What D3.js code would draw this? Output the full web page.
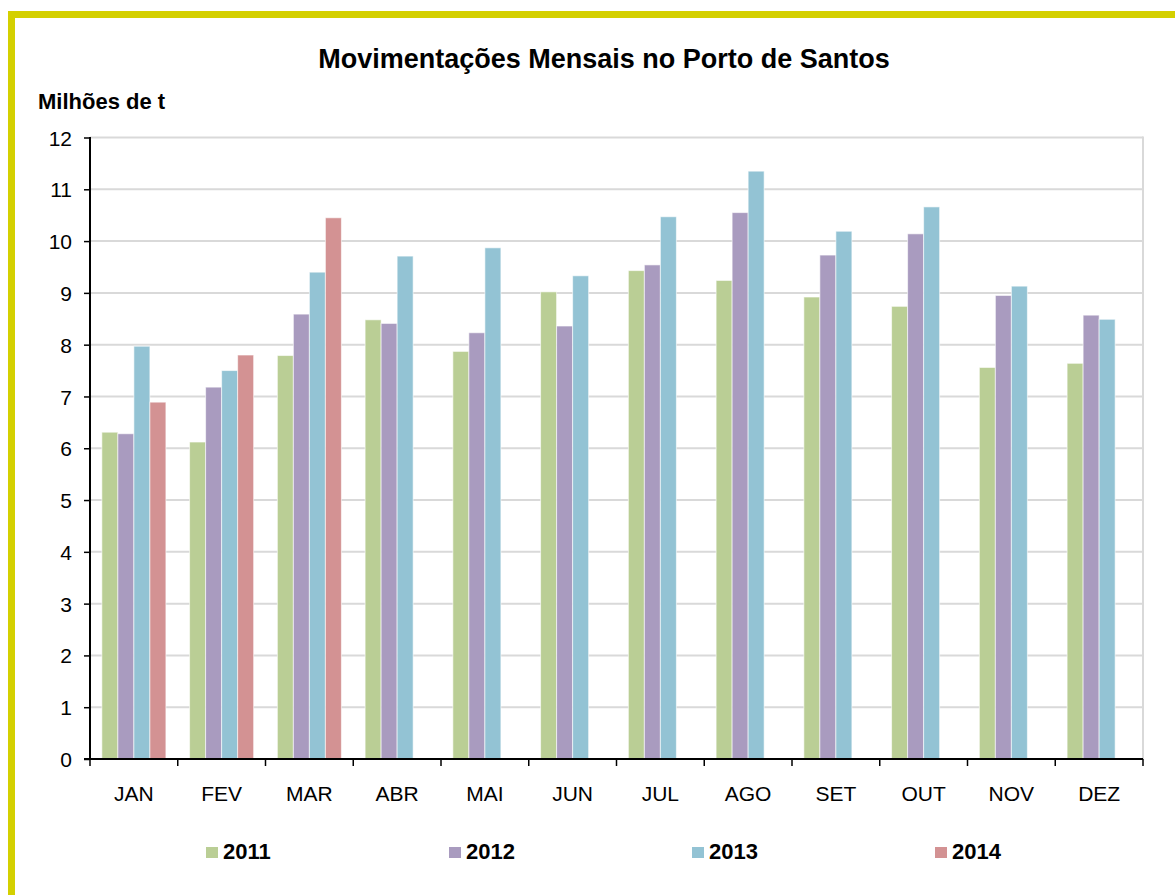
<!DOCTYPE html>
<html>
<head>
<meta charset="utf-8">
<script src="https://cdn.jsdelivr.net/npm/d3@7"></script>
<style>
  body { margin: 0; background: #fff; }
  text { font-family: "Liberation Sans", Arial, sans-serif; }
</style>
</head>
<body>
<div id="chart"></div>
<script>

var months = ["JAN","FEV","MAR","ABR","MAI","JUN","JUL","AGO","SET","OUT","NOV","DEZ"];
var years = ["2011","2012","2013","2014"];
var yearColors = ["#BACE95","#A99BBF","#93C3D4","#D39293"];
var yTicks = [0,1,2,3,4,5,6,7,8,9,10,11,12];

// milhões de t por mês
var v2011 = [6.31, 6.12, 7.79, 8.48, 7.87, 9.02, 9.43, 9.24, 8.92, 8.74, 7.56, 7.64];
var v2012 = [6.28, 7.18, 8.59, 8.41, 8.23, 8.36, 9.54, 10.55, 9.73, 10.14, 8.95, 8.57];
var v2013 = [7.97, 7.50, 9.40, 9.71, 9.87, 9.33, 10.47, 11.35, 10.19, 10.66, 9.13, 8.49];
var v2014 = [6.89, 7.80, 10.45];

var series = [v2011, v2012, v2013, v2014];

var width = 1175, height = 895;

var svg = d3.select("#chart")
  .append("svg")
  .attr("width", width)
  .attr("height", height);

// moldura amarela
svg.append("rect")
  .attr("x", 11.5)
  .attr("y", 14.5)
  .attr("width", width + 20)
  .attr("height", height + 20)
  .style("fill", "none")
  .style("stroke", "#D4D000")
  .style("stroke-width", 7);

var plotLeft = 90, plotRight = 1143, plotTop = 137.5, plotBottom = 759;

var x0 = d3.scaleBand()
  .domain(months)
  .range([plotLeft, plotRight])
  .paddingInner(0.27)
  .paddingOuter(0.135);

var x1 = d3.scaleBand()
  .domain(years)
  .range([0, x0.bandwidth()]);

var y = d3.scaleLinear()
  .domain([0, 12])
  .range([plotBottom, plotTop]);

// grade
svg.append("g")
  .selectAll("line")
  .data(yTicks.slice(1))
  .enter()
  .append("line")
  .attr("x1", plotLeft)
  .attr("x2", plotRight)
  .attr("y1", function(d){ return y(d); })
  .attr("y2", function(d){ return y(d); })
  .style("stroke", "#D9D9D9")
  .style("stroke-width", 2);

svg.append("line")
  .attr("x1", plotRight)
  .attr("x2", plotRight)
  .attr("y1", plotTop - 1)
  .attr("y2", plotBottom)
  .style("stroke", "#D9D9D9")
  .style("stroke-width", 2);

// barras
var bars = [];
series.forEach(function(vals, s){
  vals.forEach(function(v, m){
    bars.push({month: months[m], year: years[s], value: v, color: yearColors[s]});
  });
});

svg.append("g")
  .selectAll("rect")
  .data(bars)
  .enter()
  .append("rect")
  .attr("x", function(d){ return x0(d.month) + x1(d.year); })
  .attr("y", function(d){ return y(d.value); })
  .attr("width", x1.bandwidth())
  .attr("height", function(d){ return y(0) - y(d.value); })
  .style("fill", function(d){ return d.color; })
  .style("stroke", "rgba(255,255,255,0.6)")
  .style("stroke-width", 1);

// eixo y
var yAxis = svg.append("g")
  .attr("transform", "translate(" + plotLeft + ",0)")
  .call(d3.axisLeft(y).tickValues(yTicks).tickSize(6).tickPadding(12));

yAxis.select(".domain").style("stroke", "#000").style("stroke-width", 2)
  .attr("d", "M0," + (plotTop - 0.5) + "V" + plotBottom);
yAxis.selectAll(".tick line").style("stroke", "#000").style("stroke-width", 1.5);
yAxis.selectAll(".tick text")
  .attr("font-size", "21px")
  .style("font-family", "Liberation Sans, Arial, sans-serif")
  .style("fill", "#000")
  .attr("dy", "0.36em");

// eixo x
var xAxis = svg.append("g")
  .attr("transform", "translate(0," + plotBottom + ")");

xAxis.append("line")
  .attr("x1", plotLeft - 6)
  .attr("x2", plotRight)
  .style("stroke", "#000")
  .style("stroke-width", 2);

xAxis.selectAll(".sep")
  .data(d3.range(months.length + 1))
  .enter()
  .append("line")
  .attr("class", "sep")
  .attr("x1", function(i){ return plotLeft + i * x0.step(); })
  .attr("x2", function(i){ return plotLeft + i * x0.step(); })
  .attr("y1", 0)
  .attr("y2", 7)
  .style("stroke", "#000")
  .style("stroke-width", 1.5);

xAxis.selectAll(".lbl")
  .data(months)
  .enter()
  .append("text")
  .attr("class", "lbl")
  .attr("x", function(d){ return x0(d) + x0.bandwidth() / 2; })
  .attr("y", 42)
  .attr("text-anchor", "middle")
  .attr("font-size", "21px")
  .style("fill", "#000")
  .text(function(d){ return d; });

// títulos
svg.append("text")
  .attr("x", 604)
  .attr("y", 68)
  .attr("text-anchor", "middle")
  .attr("font-size", "27px")
  .attr("font-weight", "bold")
  .style("fill", "#000")
  .text("Movimentações Mensais no Porto de Santos");

svg.append("text")
  .attr("x", 38)
  .attr("y", 109)
  .attr("font-size", "22px")
  .attr("font-weight", "bold")
  .style("fill", "#000")
  .text("Milhões de t");

// legenda
var legend = svg.append("g");

legend.selectAll("rect")
  .data(years)
  .enter()
  .append("rect")
  .attr("x", function(d,i){ return 206 + 243 * i; })
  .attr("y", 847)
  .attr("width", 12)
  .attr("height", 11)
  .style("fill", function(d,i){ return yearColors[i]; });

legend.selectAll("text")
  .data(years)
  .enter()
  .append("text")
  .attr("x", function(d,i){ return 223 + 243 * i; })
  .attr("y", 859)
  .attr("font-size", "22px")
  .attr("font-weight", "bold")
  .style("fill", "#000")
  .text(function(d){ return d; });

</script>
</body>
</html>
